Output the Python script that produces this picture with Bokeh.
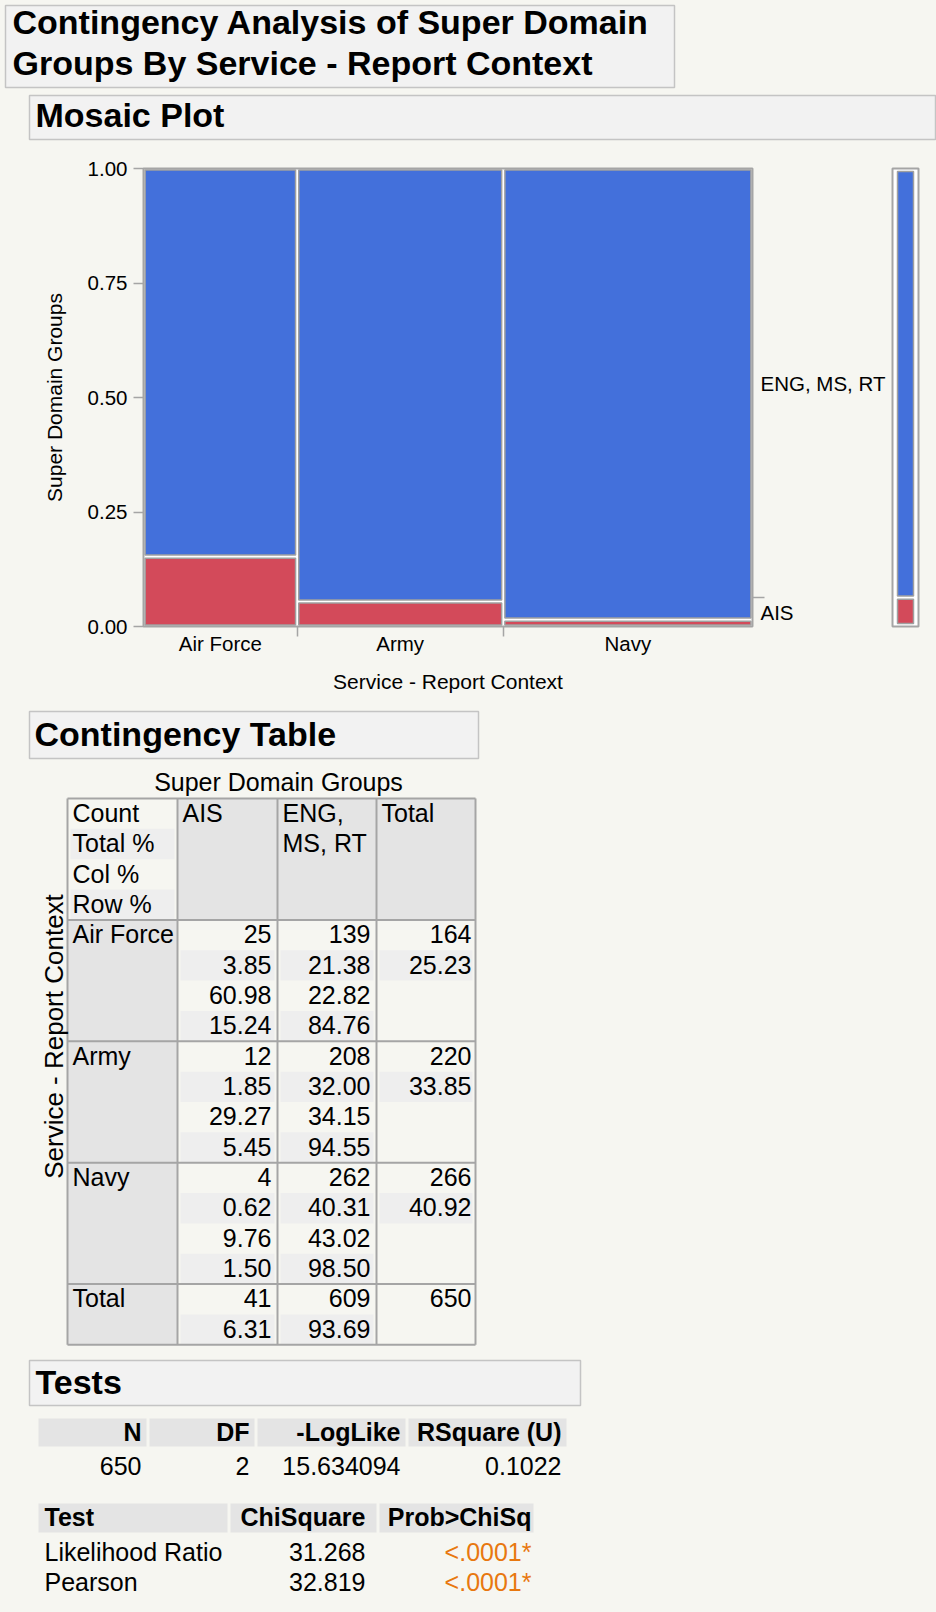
import math
from bokeh.plotting import figure
from bokeh.layouts import column, row
from bokeh.models import Range1d, FixedTicker, LinearAxis, PrintfTickFormatter
from bokeh.core.properties import value
from bokeh.embed import file_html
from bokeh.resources import INLINE

# ---------------- data ----------------
title_lines = ["Contingency Analysis of Super Domain", "Groups By Service - Report Context"]
services = ["Air Force", "Army", "Navy"]
groups = ["AIS", "ENG, MS, RT"]
ais_counts = [25, 12, 4]
eng_counts = [139, 208, 262]
y_ticks = [0.0, 0.25, 0.50, 0.75, 1.0]
x_axis_title = "Service - Report Context"
y_axis_title = "Super Domain Groups"
stat_labels = ["Count", "Total %", "Col %", "Row %"]
fit_headers = ["N", "DF", "-LogLike", "RSquare (U)"]
fit_values = ["650", "2", "15.634094", "0.1022"]
test_headers = ["Test", "ChiSquare", "Prob>ChiSq"]
test_names = ["Likelihood Ratio", "Pearson"]
test_chisq = ["31.268", "32.819"]
test_prob = ["<.0001*", "<.0001*"]

# ---------------- styles ----------------
FONTNAME = "Liberation Sans"
FONT = value(FONTNAME)
BG = "#F6F6F1"
BOX_FILL = "#F2F2F2"
BOX_LINE = "#C4C4C4"
HDR = "#E4E4E4"
BAND = "#EEEEEE"
GRID = "#A5A5A5"
BLUE = "#4370DB"
RED = "#D34A5A"
ORANGE = "#E8780F"
HEAD_SIZE = "34px"
BODY_SIZE = "25px"
AX_SIZE = "20.5px"
AXT_SIZE = "21px"
CAP = -0.8  # text anchor offset from cap centre

PAGE_W = 936
BG_STYLE = {"background-color": BG}


def pix_fig(x0, x1, y0, y1):
    p = figure(width=x1 - x0, height=y1 - y0, x_range=Range1d(x0, x1), y_range=Range1d(y1, y0),
               x_axis_type=None, y_axis_type=None, output_backend="svg",
               toolbar_location=None, min_border=0)
    p.outline_line_color = None
    p.background_fill_color = BG
    p.border_fill_color = BG
    p.styles = dict(BG_STYLE)
    return p


def txt(p, xs, ys, ss, align="left", bold=False, size=BODY_SIZE, color="black", angle=0.0):
    p.text(x=xs, y=ys, text=ss, text_font=FONT, text_font_size=size,
           text_font_style="bold" if bold else "normal", text_align=align,
           text_baseline="alphabetic", text_color=color, angle=angle)


def box(p, l, r, t, b):
    p.quad(left=[l], right=[r], top=[t], bottom=[b], fill_color=BOX_FILL,
           line_color=BOX_LINE, line_width=1.5)


# ---------------- header figure ----------------
pa = pix_fig(0, PAGE_W, 0, 150)
box(pa, 5, 674, 5, 87)
txt(pa, [12, 12], [22.5 + CAP, 63.5 + CAP], title_lines, bold=True, size=HEAD_SIZE)
box(pa, 29, 935, 95, 139)
txt(pa, [35], [115.5 + CAP], ["Mosaic Plot"], bold=True, size=HEAD_SIZE)

# ---------------- mosaic figure ----------------
B_W, B_H = 888, 550
BL, BR, BT, BB = 143, 135, 18, 74
fw, fh = B_W - BL - BR, B_H - BT - BB
pm = figure(width=B_W, height=B_H, x_range=Range1d(0, 1), y_range=Range1d(0, 1),
            x_axis_type=None, y_axis_type=None, output_backend="svg", toolbar_location=None,
            min_border_left=BL, min_border_right=BR, min_border_top=BT, min_border_bottom=BB)
pm.background_fill_color = "white"
pm.border_fill_color = BG
pm.outline_line_color = GRID
pm.outline_line_width = 2
pm.styles = dict(BG_STYLE)

totals = [a + e for a, e in zip(ais_counts, eng_counts)]
N = sum(totals)
cum = [0.0]
for t in totals:
    cum.append(cum[-1] + t / N)
GAP = 1.6
gx, gy = GAP / fw, GAP / fh
L, R, Bo, To, C = [], [], [], [], []
for i in range(len(services)):
    f = ais_counts[i] / totals[i]
    L += [cum[i] + gx, cum[i] + gx]
    R += [cum[i + 1] - gx, cum[i + 1] - gx]
    Bo += [gy, f + gy]
    To += [f - gy, 1 - gy]
    C += [RED, BLUE]
pm.quad(left=L, right=R, bottom=Bo, top=To, fill_color=C, line_color="#A0A0A0", line_width=1.5)


def style_axis(ax):
    ax.axis_line_color = None
    ax.major_label_text_font = FONTNAME
    ax.major_label_text_font_size = AX_SIZE
    ax.major_label_text_color = "black"
    ax.axis_label_text_font = FONTNAME
    ax.axis_label_text_font_size = AXT_SIZE
    ax.axis_label_text_font_style = "normal"
    ax.axis_label_text_color = "black"
    ax.major_tick_line_color = GRID
    ax.minor_tick_line_color = GRID
    ax.major_tick_line_width = 1.5
    ax.minor_tick_line_width = 1.5


yax = LinearAxis(ticker=FixedTicker(ticks=y_ticks), formatter=PrintfTickFormatter(format="%.2f"),
                 axis_label=y_axis_title)
style_axis(yax)
yax.major_tick_out, yax.major_tick_in = 10, 0
yax.minor_tick_out, yax.minor_tick_in = 0, 0
yax.major_label_standoff = 6
yax.axis_label_standoff = 19
pm.add_layout(yax, "left")

mids = [round((cum[i] + cum[i + 1]) / 2, 6) for i in range(len(services))]
bounds = [round(c, 6) for c in cum[1:-1]]
xax = LinearAxis(ticker=FixedTicker(ticks=mids, minor_ticks=bounds),
                 major_label_overrides={m: s for m, s in zip(mids, services)},
                 axis_label=x_axis_title)
style_axis(xax)
xax.major_tick_line_color = None
xax.major_tick_out, xax.major_tick_in = 0, 0
xax.minor_tick_out, xax.minor_tick_in = 10, 0
xax.major_label_standoff = -5
xax.axis_label_standoff = 12
pm.add_layout(xax, "below")

ais_share = round(sum(ais_counts) / N, 6)
rmids = [round(ais_share / 2, 6), round((ais_share + 1) / 2, 6)]
rax = LinearAxis(ticker=FixedTicker(ticks=rmids, minor_ticks=[ais_share]),
                 major_label_overrides={m: s for m, s in zip(rmids, groups)})
style_axis(rax)
rax.major_tick_line_color = None
rax.major_tick_out, rax.major_tick_in = 0, 0
rax.minor_tick_out, rax.minor_tick_in = 12, 0
rax.major_label_standoff = -4
pm.add_layout(rax, "right")

# ---------------- marginal bar ----------------
M_W = PAGE_W - B_W
ML, MR = 4, 18
mfw = M_W - ML - MR
pb = figure(width=M_W, height=B_H, x_range=Range1d(0, 1), y_range=Range1d(0, 1),
            x_axis_type=None, y_axis_type=None, output_backend="svg", toolbar_location=None,
            min_border_left=ML, min_border_right=MR, min_border_top=BT, min_border_bottom=BB)
pb.background_fill_color = "white"
pb.border_fill_color = BG
pb.outline_line_color = GRID
pb.outline_line_width = 2
pb.styles = dict(BG_STYLE)
ix, iy, ig = 5 / mfw, 3 / fh, 1.6 / fh
pb.quad(left=[ix, ix], right=[1 - ix, 1 - ix],
        bottom=[iy, ais_share + ig], top=[ais_share - ig, 1 - iy],
        fill_color=[RED, BLUE], line_color="#A0A0A0", line_width=1.5)

# ---------------- tables figure ----------------
pc = pix_fig(0, PAGE_W, 700, 1612)
box(pc, 29, 478, 711, 758)
txt(pc, [34], [734.5 + CAP], ["Contingency Table"], bold=True, size=HEAD_SIZE)

col_x = [67, 177, 277, 376, 475]
T_TOP, RH = 798, 30.35
nS = len(services)
n_rows = 4 + 4 * nS + 2


def ry(k):
    return T_TOP + k * RH


def rb(k):
    return T_TOP + k * RH + RH / 2 + CAP


fl, fr, ft, fb, fc = [], [], [], [], []


def cell(l, r, t, b, c):
    fl.append(l); fr.append(r); ft.append(t); fb.append(b); fc.append(c)


for c in (1, 2, 3):
    cell(col_x[c], col_x[c + 1], ry(0), ry(4), HDR)
cell(col_x[0], col_x[1], ry(4), ry(n_rows), HDR)
ins = 3
for k in (1, 3):
    cell(col_x[0] + ins, col_x[1] - ins, ry(k), ry(k + 1), BAND)
blocks = [4 + 4 * i for i in range(nS)]
for b in blocks:
    for c in (1, 2):
        for k in (1, 3):
            cell(col_x[c] + ins, col_x[c + 1] - ins, ry(b + k), ry(b + k + 1), BAND)
    cell(col_x[3] + ins, col_x[4] - ins, ry(b + 1), ry(b + 2), BAND)
tb = 4 + 4 * nS
for c in (1, 2):
    cell(col_x[c] + ins, col_x[c + 1] - ins, ry(tb + 1), ry(tb + 2), BAND)
pc.quad(left=fl, right=fr, top=ft, bottom=fb, fill_color=fc, line_color=None)

hs = [0, 4] + [4 + 4 * (i + 1) for i in range(nS)] + [n_rows]
pc.segment(x0=[col_x[0]] * len(hs), x1=[col_x[-1]] * len(hs),
           y0=[ry(k) for k in hs], y1=[ry(k) for k in hs], line_color=GRID, line_width=2)
pc.segment(x0=col_x, x1=col_x, y0=[ry(0)] * len(col_x), y1=[ry(n_rows)] * len(col_x),
           line_color=GRID, line_width=2)

# header texts
txt(pc, [278], [782 + CAP], [y_axis_title], align="center")
lx, ly, ls = [], [], []
for k, s in enumerate(stat_labels):
    lx.append(col_x[0] + 5); ly.append(rb(k)); ls.append(s)
eng_words = groups[1].split(" ", 1)
for s, x, k in [(groups[0], col_x[1] + 5, 0), (eng_words[0], col_x[2] + 5, 0),
                (eng_words[1], col_x[2] + 5, 1), ("Total", col_x[3] + 5, 0)]:
    lx.append(x); ly.append(rb(k)); ls.append(s)
for i, s in enumerate(services + ["Total"]):
    lx.append(col_x[0] + 5); ly.append(rb(4 + 4 * i)); ls.append(s)
txt(pc, lx, ly, ls)

# numbers
tot_ais, tot_eng = sum(ais_counts), sum(eng_counts)
nx, ny, ns = [], [], []
rx = [col_x[2] - 6, col_x[3] - 6, col_x[4] - 4]
for i in range(nS):
    b = 4 + 4 * i
    for j, (cnt, ctot) in enumerate([(ais_counts[i], tot_ais), (eng_counts[i], tot_eng)]):
        vals = [str(cnt), "%.2f" % (100 * cnt / N), "%.2f" % (100 * cnt / ctot),
                "%.2f" % (100 * cnt / totals[i])]
        for k, v in enumerate(vals):
            nx.append(rx[j]); ny.append(rb(b + k)); ns.append(v)
    nx += [rx[2], rx[2]]; ny += [rb(b), rb(b + 1)]
    ns += [str(totals[i]), "%.2f" % (100 * totals[i] / N)]
for j, ctot in enumerate([tot_ais, tot_eng]):
    nx += [rx[j], rx[j]]; ny += [rb(tb), rb(tb + 1)]
    ns += [str(ctot), "%.2f" % (100 * ctot / N)]
nx.append(rx[2]); ny.append(rb(tb)); ns.append(str(N))
txt(pc, nx, ny, ns, align="right")

# rotated row-variable label
pc.text(x=[53.5], y=[1036], text=[x_axis_title], text_font=FONT, text_font_size="26px",
        text_align="center", text_baseline="middle", angle=math.pi / 2, text_color="black")

# ---------------- Tests ----------------
box(pc, 29, 580, 1360, 1405)
txt(pc, [35], [1382 + CAP], ["Tests"], bold=True, size=HEAD_SIZE)

b1 = [(38, 146), (149, 254), (257, 405), (408, 566)]
pc.quad(left=[a for a, _ in b1], right=[z for _, z in b1], top=[1418] * 4, bottom=[1446] * 4,
        fill_color=HDR, line_color=None)
txt(pc, [z - 5 for _, z in b1], [1432 + CAP] * 4, fit_headers, align="right", bold=True)
txt(pc, [z - 5 for _, z in b1], [1466 + CAP] * 4, fit_values, align="right")

b2 = [(38, 227), (230, 376), (379, 533)]
pc.quad(left=[a for a, _ in b2], right=[z for _, z in b2], top=[1503] * 3, bottom=[1532] * 3,
        fill_color=HDR, line_color=None)
txt(pc, [44], [1517.5 + CAP], test_headers[:1], bold=True)
txt(pc, [365, 531], [1517.5 + CAP] * 2, test_headers[1:], align="right", bold=True)
row_c = [1552 + CAP, 1582 + CAP]
txt(pc, [44, 44], row_c, test_names)
txt(pc, [365, 365], row_c, test_chisq, align="right")
txt(pc, [531, 531], row_c, test_prob, align="right", color=ORANGE)

mid_row = row(pm, pb, styles=dict(BG_STYLE))
layout = column(pa, mid_row, pc, styles=dict(BG_STYLE))
open("out.html", "w").write(file_html(layout, INLINE))
